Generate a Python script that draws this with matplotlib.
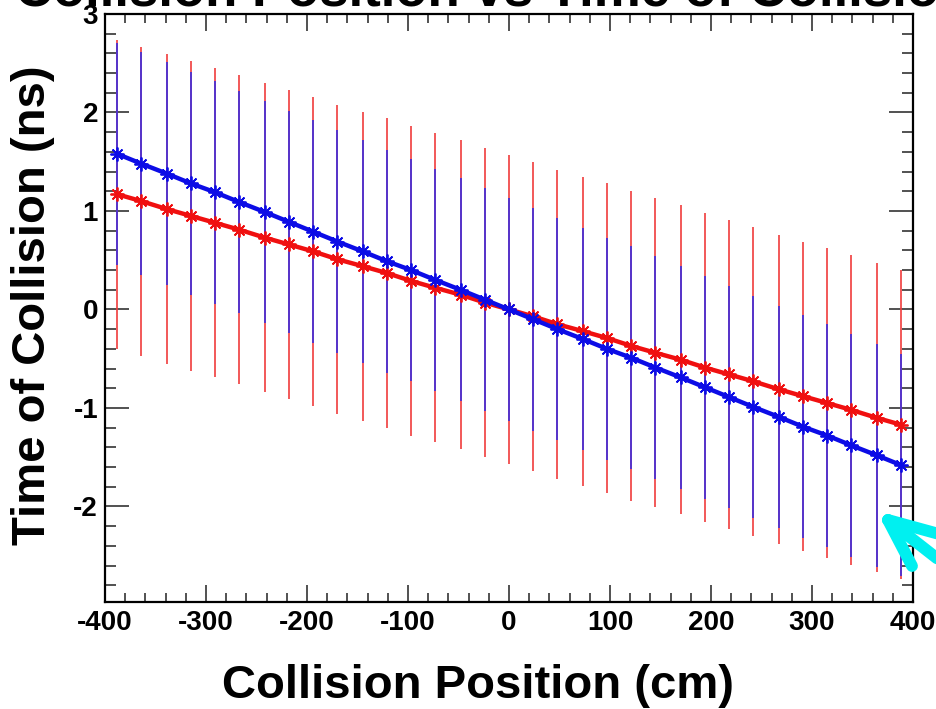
import matplotlib
matplotlib.use('Agg')
import matplotlib.pyplot as plt
from matplotlib.lines import Line2D
from matplotlib.ticker import MultipleLocator

plt.rcParams['font.family'] = ['Liberation Sans', 'DejaVu Sans']
plt.rcParams['font.weight'] = 'bold'
plt.rcParams['axes.unicode_minus'] = False

# bin centres (cm)
pos = [-388, -364, -339, -315, -291, -267, -242, -218, -194, -170, -145,
       -121, -97, -73, -48, -24, 0, 24, 48, 73, 97, 121, 145, 170, 194,
       218, 242, 267, 291, 315, 339, 364, 388]

# time of collision (ns), two cases
t_red = [1.17, 1.10, 1.02, 0.95, 0.88, 0.81, 0.73, 0.66, 0.59, 0.51, 0.44,
         0.37, 0.29, 0.22, 0.15, 0.07, 0.00, -0.07, -0.15, -0.22, -0.29,
         -0.37, -0.44, -0.51, -0.59, -0.66, -0.73, -0.81, -0.88, -0.95,
         -1.02, -1.10, -1.17]
t_blue = [1.58, 1.48, 1.38, 1.28, 1.19, 1.09, 0.99, 0.89, 0.79, 0.69, 0.59,
          0.49, 0.40, 0.30, 0.20, 0.10, 0.00, -0.10, -0.20, -0.30, -0.40,
          -0.49, -0.59, -0.69, -0.79, -0.89, -0.99, -1.09, -1.19, -1.28,
          -1.38, -1.48, -1.58]

err_red = [1.57, 1.57, 1.57, 1.57, 1.57, 1.57, 1.57, 1.57, 1.57, 1.57, 1.57,
           1.57, 1.57, 1.57, 1.57, 1.57, 1.57, 1.57, 1.57, 1.57, 1.57, 1.57,
           1.57, 1.57, 1.57, 1.57, 1.57, 1.57, 1.57, 1.57, 1.57, 1.57, 1.57]
err_blue = [1.13, 1.13, 1.13, 1.13, 1.13, 1.13, 1.13, 1.13, 1.13, 1.13, 1.13,
            1.13, 1.13, 1.13, 1.13, 1.13, 1.13, 1.13, 1.13, 1.13, 1.13, 1.13,
            1.13, 1.13, 1.13, 1.13, 1.13, 1.13, 1.13, 1.13, 1.13, 1.13, 1.13]

W, H = 937, 709
fig = plt.figure(figsize=(W / 100, H / 100), dpi=100)
ax = fig.add_axes([105 / W, 1 - 602 / H, 808 / W, 588 / H])

ax.errorbar(pos, t_red, yerr=err_red, fmt='none', ecolor='#f03c3c', elinewidth=1.2, capsize=0)
ax.errorbar(pos, t_blue, yerr=err_blue, fmt='none', ecolor='#3a2ee0', elinewidth=1.2, capsize=0)

star = (8, 2, 0)
ax.plot(pos, t_red, '-', color='#f01010', lw=3.2, marker=star, ms=10, mew=1.3)
ax.plot(pos, t_blue, '-', color='#0c0ce6', lw=3.2, marker=star, ms=10, mew=1.3)

ax.set_xlim(-400, 400)
ax.set_ylim(-2.97, 3)
ax.xaxis.set_major_locator(MultipleLocator(100))
ax.xaxis.set_minor_locator(MultipleLocator(20))
ax.yaxis.set_major_locator(MultipleLocator(1))
ax.yaxis.set_minor_locator(MultipleLocator(0.2))

ax.tick_params(which='both', direction='in', top=True, right=True, width=1.1, color='#222222')
ax.tick_params(axis='x', which='major', length=12, pad=6, labelsize=20)
ax.tick_params(axis='x', which='minor', length=6.5)
ax.tick_params(axis='y', which='major', length=17, pad=5, labelsize=20)
ax.tick_params(axis='y', which='minor', length=8)
for lab in ax.get_xticklabels() + ax.get_yticklabels():
    lab.set_fontweight('bold')
for sp in ax.spines.values():
    sp.set_linewidth(1.6)

fig.text(15 / W, 1 - 5 / H, 'Collision Position vs Time of Collision',
         ha='left', va='baseline', fontsize=38, fontweight='bold')
fig.text(478 / W, 1 - 698 / H, 'Collision Position (cm)',
         ha='center', va='baseline', fontsize=34, fontweight='bold')
fig.text(33 / W, 1 - 305 / H, 'Time of Collision (ns)', rotation=90,
         ha='center', va='center', fontsize=34, fontweight='bold')

# cyan pointer in the lower right corner
tip = (888, 520)
for end in [(950, 537), (912, 566), (980, 592)]:
    fig.add_artist(Line2D([tip[0] / W, end[0] / W], [1 - tip[1] / H, 1 - end[1] / H],
                          transform=fig.transFigure, color='#00f0f0', lw=8.5,
                          solid_capstyle='round'))

fig.savefig('out.png', dpi=100)
